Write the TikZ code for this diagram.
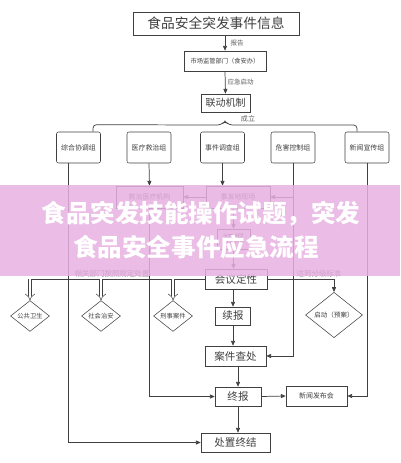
\documentclass[tikz,border=0pt]{standalone}
\usepackage{fontspec}
\setmainfont{Noto Sans CJK SC}
\usetikzlibrary{positioning,shapes.geometric,arrows.meta}
\definecolor{linegray}{RGB}{64,64,64}
\definecolor{labelgray}{RGB}{95,95,95}
\definecolor{bannerpink}{RGB}{231,176,224}

\begin{document}
\begin{tikzpicture}[x=0.75pt, y=-0.75pt,
  every node/.style={text=linegray, inner sep=0pt},
  box/.style={draw=linegray, fill=white, align=center},
  grp/.style={box, rounded corners=1.5pt, minimum width=33pt, minimum height=23.25pt, font=\fontsize{5.2}{6}\selectfont},
  stepbox/.style={box, minimum height=15pt, font=\fontsize{7.9}{9}\selectfont},
  smallbox/.style={box, minimum height=16.5pt, font=\fontsize{5.2}{6}\selectfont},
  choice/.style={draw=linegray, fill=white, shape=diamond, font=\fontsize{4.7}{5.5}\selectfont},
  lbl/.style={text=labelgray, font=\fontsize{4.9}{6}\selectfont},
  line/.style={draw=linegray, line width=0.55pt},
  arr/.style={line, -{Triangle[length=3.6pt,width=3pt]}},
  hollow/.style={draw=linegray, line width=0.4pt, double, double distance=2.2pt, -{Implies[]}},
  bannertext/.style={text=white, font=\fontsize{18.4}{20}\selectfont\bfseries}]
\useasboundingbox (0,0) rectangle (400,463);

% top of the chain
\node[box, minimum width=124.5pt, minimum height=17.25pt, font=\fontsize{10.3}{12}\selectfont] (info) at (216,23.5) {食品安全突发事件信息};
\node[box, minimum width=61.5pt, minimum height=15pt, font=\fontsize{4.7}{5.5}\selectfont] (sj) at (225,61) {市场监管部门（食安办）};
\node[box, minimum width=36.75pt, minimum height=13.5pt, font=\fontsize{7.5}{9}\selectfont] (ld) at (225.5,103) {联动机制};
\draw[arr] (info.south -| sj) -- (sj.north) node[lbl, midway, right=4pt] {报告};
\draw[arr] (sj.south) -- (ld.north) node[lbl, midway, right=1.5pt] {应急启动};

% the five groups
\node[grp] (zh) at (78.5,147.5) {综合协调组};
\node[grp] (yl) at (149,147.5) {医疗救治组};
\node[grp] (dc) at (222.5,147.5) {事件调查组};
\node[grp] (wh) at (293,147.5) {危害控制组};
\node[grp] (xw) at (367,147.5) {新闻宣传组};
\coordinate (peak) at (225,121);
\draw[line, rounded corners=2.5pt] ([xshift=10.9pt]zh.north) -- ++(0,-7) -- ([xshift=-3pt,yshift=-3pt]peak) -- (peak) -- ([xshift=3pt,yshift=-3pt]peak) -| ([xshift=-7.5pt]xw.north);
\node[lbl, font=\fontsize{5.3}{6}\selectfont] (cl) at (248,119) {成立};

% scene and treatment
\node[smallbox, minimum width=50.25pt] (jz) at (149.5,197) {救治医疗机构};
\node[smallbox, minimum width=48pt] (xc) at (238,197) {事发地现场};
\node[stepbox, minimum width=24.75pt] (cb) at (233.5,239) {初报};
\node[stepbox, minimum width=46.5pt] (hy) at (236,279) {会议定性};
\node[stepbox, minimum width=26.25pt, minimum height=13.5pt] (xb) at (233,316) {续报};
\node[stepbox, minimum width=45.75pt] (aj) at (235.5,356) {案件查处};
\node[stepbox, minimum width=34.5pt, minimum height=14.25pt] (zb) at (238,396.5) {终报};
\node[stepbox, minimum width=51.75pt, minimum height=14.25pt] (zj) at (235.5,442.5) {处置终结};
\node[box, minimum width=45.75pt, minimum height=15pt, font=\fontsize{5.2}{6}\selectfont] (fb) at (316.5,396) {新闻发布会};

% decisions
\node[choice, minimum width=29.25pt, minimum height=22.5pt] (gw) at (30,316) {公共卫生};
\node[choice, minimum width=29.25pt, minimum height=22.5pt] (za) at (101,316) {社会治安};
\node[choice, minimum width=29.25pt, minimum height=22.5pt] (xs) at (173,316) {刑事案件};
\node[choice, minimum width=42.75pt, minimum height=25.5pt, font=\fontsize{4.9}{5.5}\selectfont] (qd) at (334,315) {启动（预案）};

% connectors
\draw[arr] ([xshift=-7.9pt]zh.south) |- (zj.west);
\draw[arr] (yl.south) -- (jz.north);
\draw[arr] (jz.south) |- (zb.west);
\draw[arr] (dc.south) -- (dc.south |- xc.north);
\draw[arr] (xc.west) -- (jz.east);
\draw[arr] (wh.south |- xc.east) -- (xc.east);
\draw[arr] (wh.south) |- (aj.east);
\draw[arr] (xw.south) |- (fb.east);
\draw[arr] (xc.south -| cb) -- (cb.north);
\draw[arr] (cb.south) -- (hy.north -| cb);
\draw[arr] (hy.south -| xb) -- (xb.north);
\draw[arr] (xb.south) -- (aj.north -| xb);
\draw[arr] (aj.south -| zb) -- (zb.north);
\draw[arr] (zb.east) -- (fb.west);
\draw[arr] (zb.south) -- (zj.north -| zb);
\draw[line] (hy.west) -- (gw.north |- hy.west);
\node[lbl, font=\fontsize{5.6}{6.5}\selectfont, anchor=south] (xg) at (112,277) {相关部门按照规定处置};
\draw[hollow] (gw.north |- hy.west) -- (gw.north);
\draw[hollow] (za.north |- hy.west) -- (za.north);
\draw[hollow] (xs.north |- hy.west) -- (xs.north);
\draw[arr] (hy.east) -| (qd.north);
\node[lbl, font=\fontsize{5.6}{6.5}\selectfont, anchor=south] (fj) at (319,277) {达到分级标准};

% banner over the picture
\fill[bannerpink, opacity=0.85] (0,185) rectangle (400,276);
\node[bannertext] (t1) at (201,214) {食品突发技能操作试题，突发};
\node[bannertext] (t2) at (196,247) {食品安全事件应急流程};
\end{tikzpicture}
\end{document}
